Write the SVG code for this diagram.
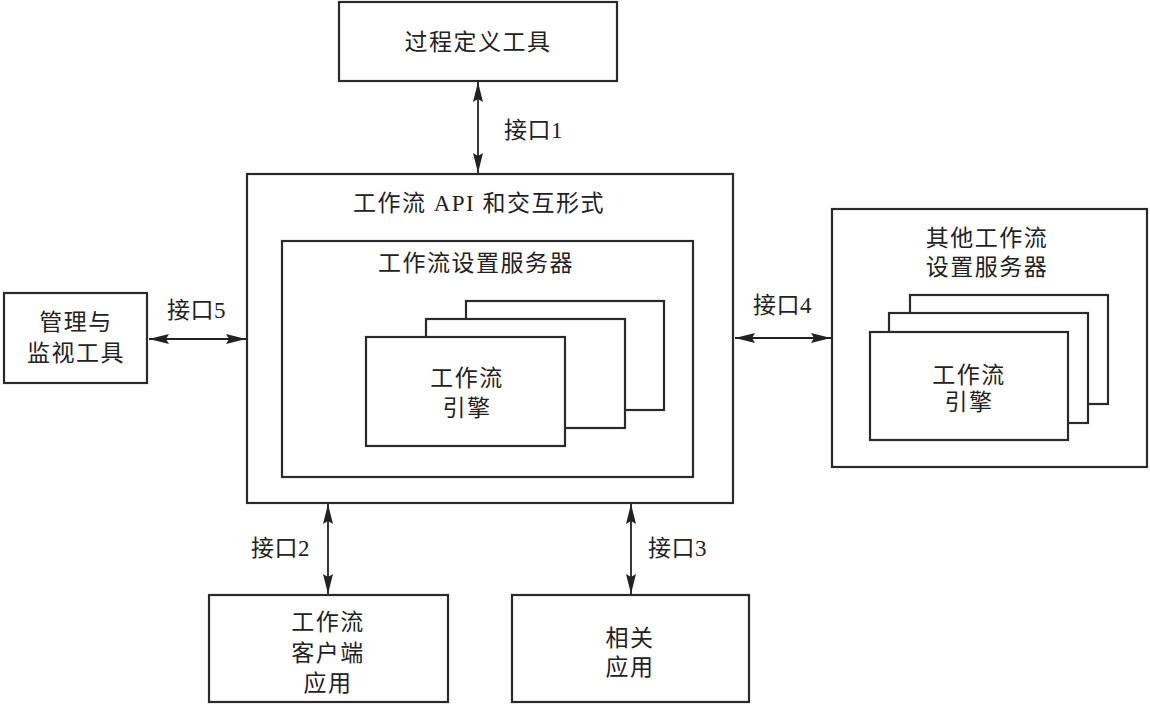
<svg xmlns="http://www.w3.org/2000/svg" width="1150" height="707" viewBox="0 0 1150 707">
<style>
.box{fill:#fff;stroke:#2a2a2a;stroke-width:2.2}
.t{font-family:"Liberation Serif","Noto Sans CJK SC",serif;font-size:23px;fill:#222;text-anchor:middle;dominant-baseline:central;letter-spacing:1.5px}
.l{font-family:"Liberation Serif","Noto Sans CJK SC",serif;font-size:23px;fill:#222;dominant-baseline:central;letter-spacing:0.5px}
.c{stroke:#222;stroke-width:1.8;fill:none;marker-start:url(#ah);marker-end:url(#ah)}
</style>
<defs>
<marker id="ah" viewBox="0 0 20 10" refX="20" refY="5" markerWidth="20" markerHeight="10" markerUnits="userSpaceOnUse" orient="auto-start-reverse">
<path d="M0,0 L20,5 L0,10 L3,5 z" fill="#222"/>
</marker>
</defs>
<rect width="1150" height="707" fill="#fff"/>
<g id="connectors">
<line class="c" x1="478" y1="82" x2="478" y2="173"/>
<line class="c" x1="149" y1="339" x2="246" y2="339"/>
<line class="c" x1="735" y1="338" x2="831" y2="338"/>
<line class="c" x1="328" y1="504" x2="328" y2="594"/>
<line class="c" x1="631" y1="504" x2="631" y2="594"/>
<text class="l" x="504" y="130">接口1</text>
<text class="l" x="167" y="310">接口5</text>
<text class="l" x="753" y="305">接口4</text>
<text class="l" x="251" y="548">接口2</text>
<text class="l" x="648" y="548">接口3</text>
</g>
<g id="process-tool">
<rect class="box" x="339" y="2" width="278" height="79"/>
<text class="t" x="478" y="42">过程定义工具</text>
</g>
<g id="workflow-api">
<rect class="box" x="247" y="174" width="486" height="329"/>
<text class="t" x="479" y="203">工作流 API 和交互形式</text>
</g>
<g id="enactment-service">
<rect class="box" x="282" y="241" width="411" height="236"/>
<text class="t" x="476" y="263">工作流设置服务器</text>
</g>
<g id="engine-stack">
<rect class="box" x="466" y="301" width="198" height="109"/>
<rect class="box" x="426" y="319" width="199" height="109"/>
<rect class="box" x="366" y="337" width="199" height="109"/>
<text class="t" x="467" y="378">工作流</text>
<text class="t" x="467" y="408">引擎</text>
</g>
<g id="other-service">
<rect class="box" x="832" y="209" width="315" height="258"/>
<text class="t" x="987" y="238">其他工作流</text>
<text class="t" x="987" y="267">设置服务器</text>
</g>
<g id="other-engine-stack">
<rect class="box" x="910" y="295" width="198" height="109"/>
<rect class="box" x="889" y="313" width="199" height="110"/>
<rect class="box" x="870" y="332" width="198" height="108"/>
<text class="t" x="969" y="375">工作流</text>
<text class="t" x="969" y="402">引擎</text>
</g>
<g id="admin-tool">
<rect class="box" x="4" y="293" width="143" height="90"/>
<text class="t" x="76" y="322">管理与</text>
<text class="t" x="76" y="353">监视工具</text>
</g>
<g id="client-app">
<rect class="box" x="209" y="595" width="239" height="107"/>
<text class="t" x="328" y="622">工作流</text>
<text class="t" x="328" y="653">客户端</text>
<text class="t" x="328" y="683">应用</text>
</g>
<g id="invoked-app">
<rect class="box" x="512" y="595" width="237" height="107"/>
<text class="t" x="630" y="638">相关</text>
<text class="t" x="630" y="667">应用</text>
</g>
</svg>
